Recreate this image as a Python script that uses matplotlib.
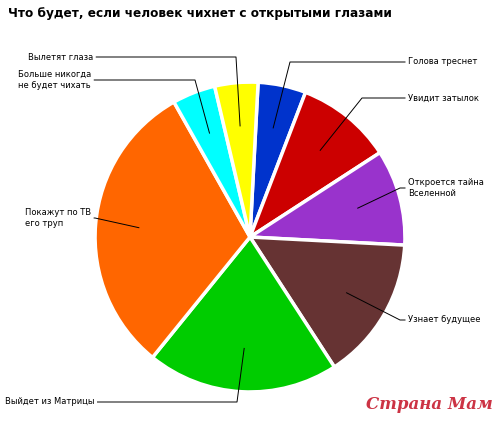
import numpy as np
import matplotlib.pyplot as plt

labels = ["Голова треснет", "Увидит затылок", "Откроется тайна\nВселенной",
          "Узнает будущее", "Выйдет из Матрицы", "Покажут по ТВ\nего труп",
          "Больше никогда\nне будет чихать", "Вылетят глаза"]
values = [5, 10, 10, 15, 20, 31, 4.5, 4.5]
colors = ["#0033cc", "#cc0000", "#9933cc", "#663333", "#00cc00", "#ff6600",
          "#00ffff", "#ffff00"]
# label text anchor (image px, y from top), horizontal alignment, elbow x
label_pos = [(408, 62, "left", 290), (408, 98, "left", 362), (408, 188, "left", 400),
             (408, 320, "left", 400), (5, 402, "left", 237), (25, 218, "left", 95),
             (18, 80, "left", 195), (28, 57, "left", 236)]

W, H = 500, 421
fig = plt.figure(figsize=(W / 100, H / 100), dpi=100)
ax = fig.add_axes([0.19, 0.069, 0.62, 0.736])
wedges, _ = ax.pie(values, colors=colors, startangle=87, counterclock=False,
                   wedgeprops=dict(edgecolor="white", linewidth=2.5))
ax.set_xlim(-1, 1)
ax.set_ylim(-1, 1)
ax.set_aspect("equal")

fig.text(8 / W, 1 - 14 / H, "Что будет, если человек чихнет с открытыми глазами",
         fontsize=8.7, fontweight="bold", va="center", ha="left")

fig.canvas.draw()
for w, lab, (tx, ty, ha, ex) in zip(wedges, labels, label_pos):
    th = np.deg2rad((w.theta1 + w.theta2) / 2)
    px, py = ax.transData.transform((0.72 * np.cos(th), 0.72 * np.sin(th)))
    t = fig.text(tx / W, 1 - ty / H, lab, fontsize=6, ha=ha, va="center")
    bb = t.get_window_extent(fig.canvas.get_renderer())
    edge = bb.x0 - 3 if tx > W / 2 else bb.x1 + 3
    fig.lines.append(plt.Line2D([edge, ex, px], [H - ty, H - ty, py],
                                transform=None, color="black", lw=0.7))

fig.text(0.985, 0.02, "Страна Мам", color="#cc3344", fontsize=12,
         style="italic", fontweight="bold", family="DejaVu Serif",
         ha="right", va="bottom")
fig.savefig("out.png", dpi=100)
